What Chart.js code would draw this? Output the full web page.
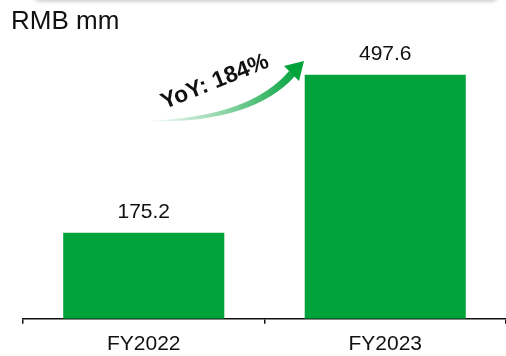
<!DOCTYPE html>
<html>
<head>
<meta charset="utf-8">
<script src="https://cdn.jsdelivr.net/npm/chart.js@4/dist/chart.umd.min.js"></script>
<style>
  html, body { margin: 0; padding: 0; background: #fff; }
  #wrap { position: relative; width: 506px; height: 356px; overflow: hidden; }
  #topbar { position: absolute; left: 34px; right: 8px; top: -20px; height: 20px;
            box-shadow: 0 1px 4px rgba(0,0,0,0.25); background: #fff; border-radius: 6px; }
  #unit { position: absolute; left: 11px; top: 5px; font: 26px "Liberation Sans", Arial, sans-serif; color: #111; line-height: 30px; }
  canvas { display: block; }
</style>
</head>
<body>
<div id="wrap">
  <div id="topbar"></div>
  <div id="unit">RMB mm</div>
  <canvas id="c" width="506" height="356"></canvas>
</div>
<script>
const categories = ['FY2022', 'FY2023'];
const revenue = [175.2, 497.6];
const valueLabels = ['175.2', '497.6'];
const growthLabel = 'YoY: 184%';

const GREEN = '#00A23A';
const FONT = '"Liberation Sans", Arial, sans-serif';

// Value labels above each bar, plus the curved growth arrow
const annotations = {
  id: 'annotations',
  afterDatasetsDraw(chart) {
    const ctx = chart.ctx;
    const meta = chart.getDatasetMeta(0);
    ctx.save();
    ctx.fillStyle = '#111';
    ctx.font = '21px ' + FONT;
    ctx.textAlign = 'center';
    ctx.textBaseline = 'alphabetic';
    meta.data.forEach((bar, i) => {
      ctx.fillText(valueLabels[i], bar.x, bar.y - 15);
    });

    // curved arrow
    const grad = ctx.createLinearGradient(150, 0, 300, 0);
    grad.addColorStop(0, 'rgba(0,162,58,0.02)');
    grad.addColorStop(0.5, 'rgba(0,162,58,0.45)');
    grad.addColorStop(1, 'rgba(0,162,58,1)');
    ctx.fillStyle = grad;
    ctx.beginPath();
    ctx.moveTo(150, 120.5);
    ctx.quadraticCurveTo(250, 117, 289, 71);
    ctx.lineTo(295, 76);
    ctx.quadraticCurveTo(253, 123, 150, 121.5);
    ctx.closePath();
    ctx.fill();
    // arrow head
    ctx.fillStyle = GREEN;
    ctx.beginPath();
    ctx.moveTo(304, 61);
    ctx.lineTo(284, 66);
    ctx.lineTo(299, 81);
    ctx.closePath();
    ctx.fill();

    // growth text
    ctx.translate(215, 82);
    ctx.rotate(-22 * Math.PI / 180);
    ctx.fillStyle = '#111';
    ctx.font = 'bold 23px ' + FONT;
    ctx.textAlign = 'center';
    ctx.textBaseline = 'middle';
    ctx.fillText(growthLabel, 0, 0);
    ctx.restore();
  }
};

new Chart(document.getElementById('c'), {
  type: 'bar',
  data: {
    labels: categories,
    datasets: [{
      data: revenue,
      backgroundColor: GREEN,
      borderWidth: 0,
      categoryPercentage: 1,
      barPercentage: 0.667
    }]
  },
  options: {
    responsive: false,
    animation: false,
    layout: { padding: { left: 23, right: 0, top: 24.5, bottom: -9 } },
    plugins: { legend: { display: false }, tooltip: { enabled: false } },
    scales: {
      y: { display: false, min: 0, max: 600 },
      x: {
        border: { display: true, color: '#111', width: 1.5 },
        grid: { display: true, drawOnChartArea: false, drawTicks: true,
                tickLength: 5, offset: true, color: '#111', lineWidth: 1.5 },
        ticks: { color: '#111', padding: 8,
                 font: { family: FONT, size: 21 } }
      }
    }
  },
  plugins: [annotations]
});
</script>
</body>
</html>
